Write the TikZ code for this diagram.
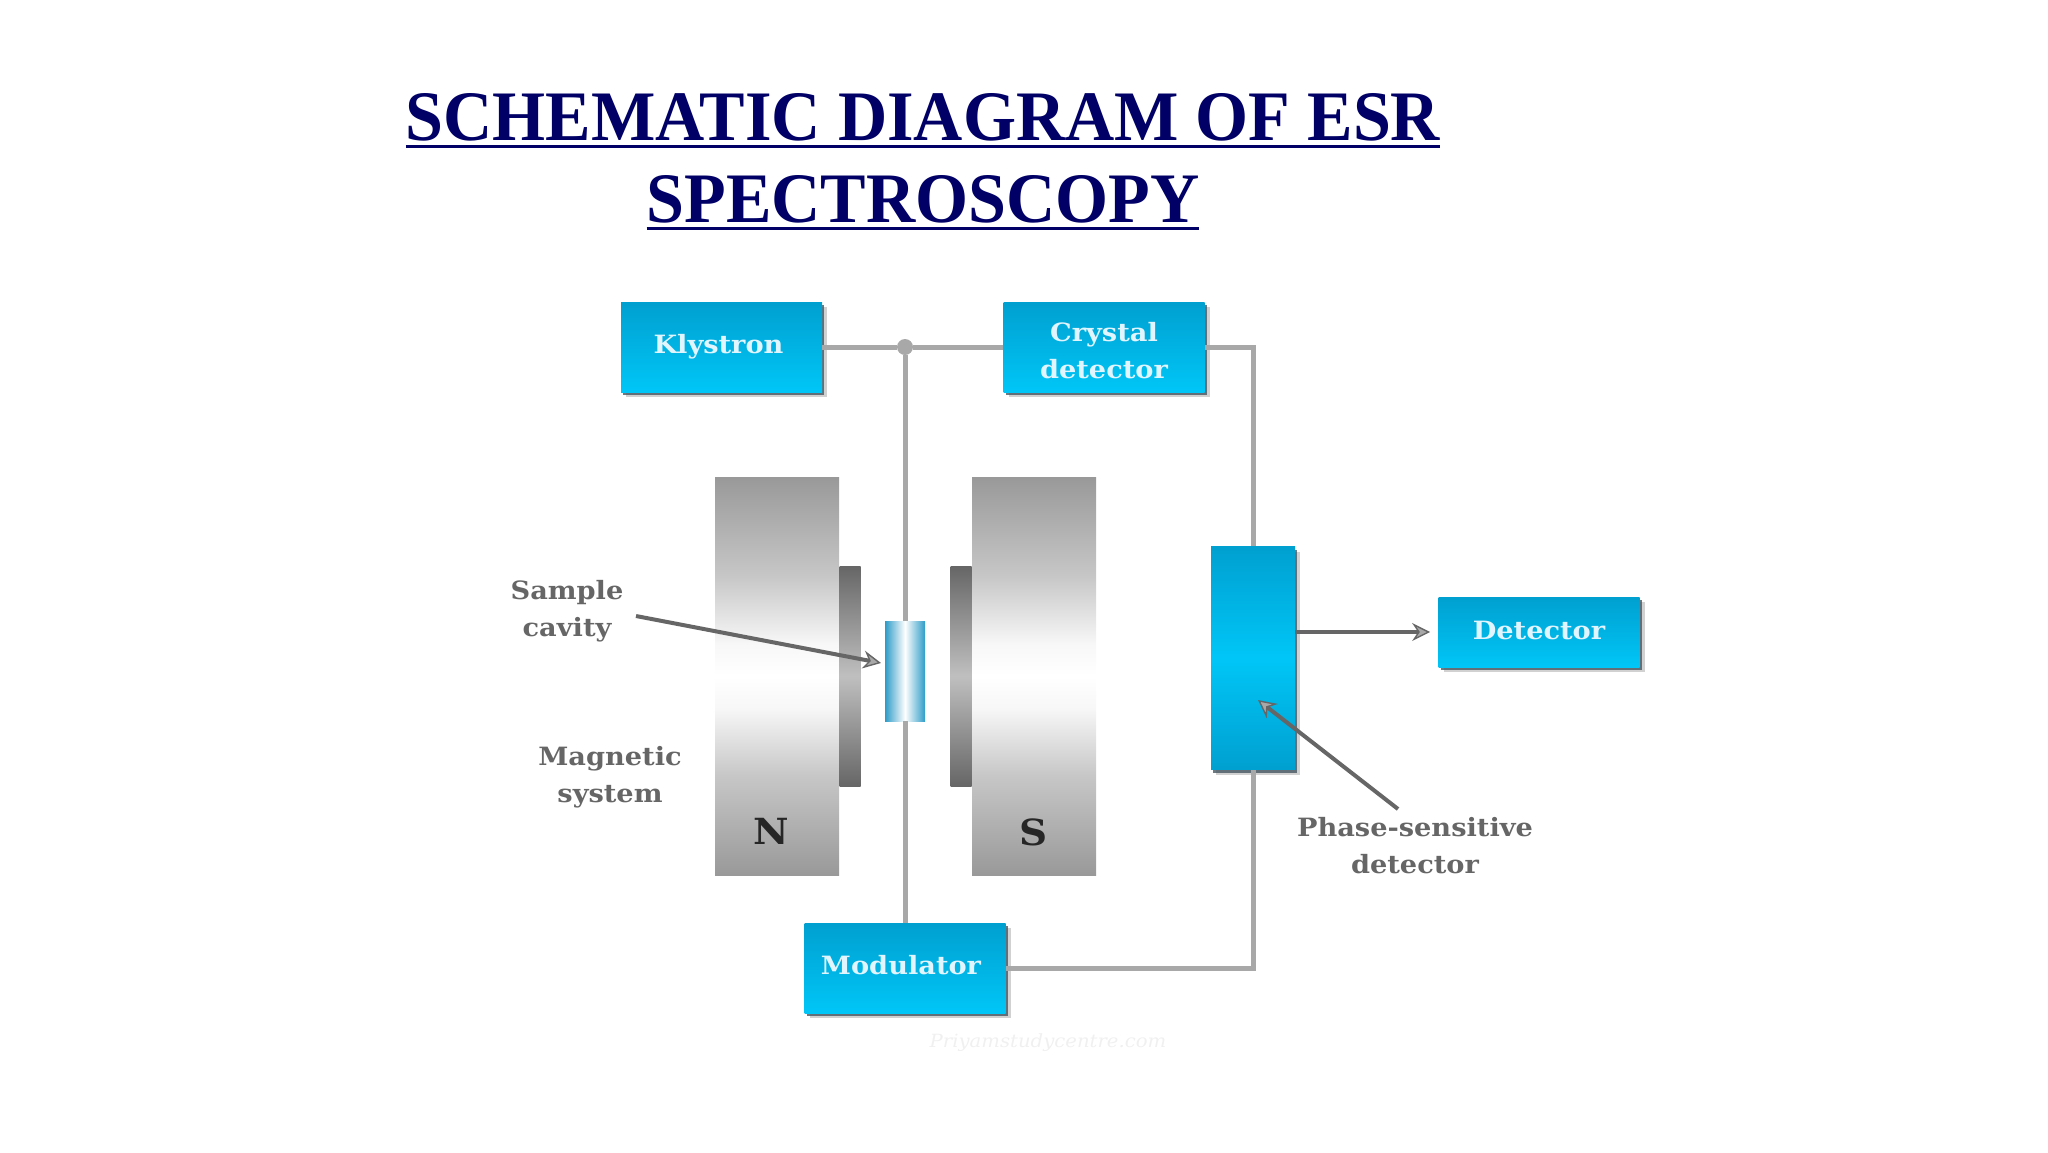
\documentclass[tikz,border=0pt]{standalone}
\usepackage{fontspec}
\usepackage{xcolor}
\usepackage{tikz}
\usetikzlibrary{positioning,arrows.meta,shadows}
\setmainfont{Liberation Serif}
\newfontfamily\titlefont[FakeStretch=0.96]{Liberation Serif}
\newfontfamily\labelfont[FakeStretch=1.08]{DejaVu Serif}
\definecolor{titleblue}{HTML}{000066}
\definecolor{boxtop}{HTML}{00A0D0}
\definecolor{boxlow}{HTML}{00C6F7}
\definecolor{cavityblue}{HTML}{2E9CC8}
\definecolor{wiregray}{HTML}{A8A8A8}
\definecolor{captiongray}{HTML}{666666}
\newcommand{\ruledline}[1]{\leavevmode\setbox0=\hbox{#1}\rlap{\vrule width \wd0 height -2.2pt depth 3.95pt}\box0}
\pgfdeclareverticalshading{magnetshade}{100bp}{
  color(0bp)=(black!40); color(25bp)=(black!40); color(37.5bp)=(black!22); color(46bp)=(black!3);
  color(50bp)=(white); color(54bp)=(black!3); color(62.5bp)=(black!22); color(75bp)=(black!40); color(100bp)=(black!40)}
\tikzset{
  blockbox/.style={rectangle, minimum width=100.5pt, minimum height=45pt, inner sep=0pt,
    top color=boxtop, bottom color=boxlow, align=center, text=cyan!12,
    font=\labelfont\fontsize{12.6}{18.5}\selectfont\bfseries,
    drop shadow={shadow xshift=2.5pt, shadow yshift=-2.5pt, fill=black, opacity=.18},
    drop shadow={shadow xshift=1pt, shadow yshift=-1.5pt, fill=black!70!cyan, opacity=.8}},
  magnetbox/.style={rectangle, minimum width=62pt, minimum height=199pt, inner sep=0pt,
    shading=magnetshade},
  polebox/.style={rectangle, minimum width=10.5pt, minimum height=110pt, inner sep=0pt,
    top color=black!60, bottom color=black!60, middle color=black!25},
  caption/.style={align=center, text=captiongray,
    font=\labelfont\fontsize{12.6}{18.5}\selectfont\bfseries},
  wire/.style={draw=wiregray, line width=2.5pt},
  pointer/.style={draw=captiongray, line width=2pt,
    -{Stealth[length=9pt, width=9pt, inset=3pt, line width=.7pt, fill=wiregray]}}
}
\begin{document}
\begin{tikzpicture}[x=0.5pt, y=-0.5pt, node distance=191.25pt]
      \useasboundingbox (0,0) rectangle (2048,1152);

      % title
      \node (title) [align=center, text=titleblue, inner sep=0pt,
        font=\titlefont\fontsize{35.5}{41}\selectfont\bfseries] at (923,162)
        {\ruledline{SCHEMATIC DIAGRAM OF ESR}\\ \ruledline{SPECTROSCOPY}};

      % magnet
      \node (north) [magnetbox] at (777,676) {};
      \node (south) [magnetbox] at (1034,676) {};
      \node (northpole) [polebox] at (850,676) {};
      \node (southpole) [polebox] at (961,676) {};
      \node (cavity) [rectangle, minimum width=20pt, minimum height=50pt, inner sep=0pt,
        left color=cavityblue, right color=cavityblue, middle color=white] at (905,671) {};
      \node (nlabel) [font=\labelfont\fontsize{18}{18}\selectfont\bfseries, text=black!85] at (771,831) {N};
      \node (slabel) [font=\labelfont\fontsize{18}{18}\selectfont\bfseries, text=black!85] at (1034,832) {S};

      % blocks
      \node (klystron) [blockbox] at (721.5,347) {\raisebox{.7pt}{Klystron}\hspace{3pt}};
      \node (crystal) [blockbox, right of=klystron] {\rule{0pt}{13pt}Crystal\\detector};
      \node (modulator) [blockbox] at (905,968) {\raisebox{3pt}{Modulator}\hspace{4pt}};
      \node (psd) [blockbox, minimum width=42pt, minimum height=111.5pt,
        bottom color=boxtop, middle color=boxlow] at (1253,658) {};
      \node (detector) [blockbox, minimum height=35pt] at (1539,632) {\raisebox{1.5pt}{Detector}};
      \node (junction) [circle, fill=wiregray, inner sep=0pt, minimum size=8pt] at (905,347) {};

      % captions
      \node (samplecap) [caption] at (567,611) {Sample\\cavity};
      \node (magnetcap) [caption] at (610,777) {Magnetic\\system};
      \node (phasecap) [caption] at (1415,846) {Phase-sensitive\\detector};
      \node (mark) [text=black!6, font=\labelfont\fontsize{9.1}{9.1}\selectfont\itshape] at (1048,1043) {Priyamstudycentre.com};

      \coordinate (samplefoot) at (636,616);
      \coordinate (sampletip) at (881,663);
      \coordinate (phasefoot) at (1398,809);
      \coordinate (phasetip) at (1258,700);

      \draw[wire] (klystron) -- (junction);
      \draw[wire] (junction) -- (crystal);
      \draw[wire] (junction) -- (cavity);
      \draw[wire] (cavity) -- (modulator);
      \draw[wire] (crystal.east) -| (psd.north);
      \draw[wire] (psd.south) |- (modulator.east);

      \draw[pointer] (samplefoot) -- (sampletip);
      \draw[pointer] (phasefoot) -- (phasetip);
      \draw[pointer, shorten >=4pt] (psd.east |- detector.west) -- (detector.west);
    \end{tikzpicture}
\end{document}
